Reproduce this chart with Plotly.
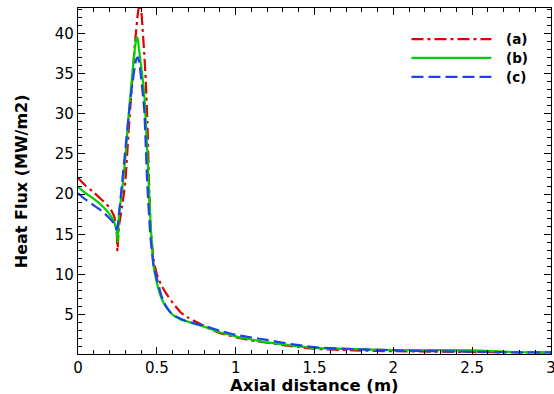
import plotly.graph_objects as go

# Case (a)
xa = [0, 0.05, 0.1, 0.15, 0.2, 0.23, 0.245, 0.25, 0.26, 0.28, 0.3, 0.32, 0.34, 0.36, 0.38, 0.39, 0.40,
      0.41, 0.42, 0.43, 0.44, 0.45, 0.46, 0.48, 0.5, 0.53, 0.56, 0.6, 0.65, 0.7, 0.8, 0.9, 1.0, 1.1,
      1.2, 1.3, 1.4, 1.5, 1.75, 2.0, 2.25, 2.5, 2.75, 3.0]
ya = [22.0, 21.0, 20.2, 19.3, 18.3, 17.2, 15.5, 12.9, 16.0, 18.5, 21.5, 27.5, 33.0, 38.5, 42.5, 43.6, 43.0,
      40.5, 37.5, 34.0, 29.0, 22.0, 16.0, 11.8, 10.0, 8.6, 7.6, 6.5, 5.3, 4.6, 3.6, 2.7, 2.2, 1.8,
      1.5, 1.2, 0.95, 0.75, 0.55, 0.45, 0.4, 0.35, 0.3, 0.28]

# Case (b)
xb = [0, 0.05, 0.1, 0.15, 0.2, 0.23, 0.245, 0.252, 0.26, 0.28, 0.3, 0.32, 0.34, 0.36, 0.37, 0.375, 0.38,
      0.39, 0.40, 0.42, 0.44, 0.46, 0.48, 0.5, 0.53, 0.56, 0.6, 0.65, 0.7, 0.8, 0.9, 1.0, 1.1, 1.2,
      1.3, 1.4, 1.5, 1.75, 2.0, 2.25, 2.5, 2.75, 3.0]
yb = [20.9, 20.1, 19.4, 18.6, 17.5, 16.5, 15.5, 14.0, 17.5, 20.5, 24.5, 29.5, 34.0, 38.0, 39.3, 39.5, 39.2,
      37.5, 36.0, 32.5, 25.0, 16.5, 11.0, 9.0, 7.0, 5.9, 5.0, 4.4, 4.1, 3.5, 2.8, 2.3, 1.9, 1.55,
      1.3, 1.05, 0.85, 0.7, 0.6, 0.6, 0.55, 0.35, 0.3]

# Case (c)
xc = [0, 0.05, 0.1, 0.15, 0.2, 0.23, 0.244, 0.25, 0.26, 0.28, 0.3, 0.32, 0.34, 0.36, 0.37, 0.38, 0.39,
      0.40, 0.42, 0.44, 0.46, 0.48, 0.5, 0.53, 0.56, 0.6, 0.65, 0.7, 0.8, 0.9, 1.0, 1.1, 1.2, 1.3,
      1.4, 1.5, 1.75, 2.0, 2.25, 2.5, 2.75, 3.0]
yc = [20.1, 19.3, 18.6, 17.9, 17.0, 16.3, 15.6, 15.8, 17.5, 21.5, 25.5, 29.5, 33.0, 35.8, 36.8, 37.0, 36.2,
      34.5, 30.5, 21.0, 14.5, 11.0, 9.5, 7.3, 6.0, 5.0, 4.5, 4.1, 3.6, 3.0, 2.5, 2.15, 1.85, 1.5,
      1.2, 0.95, 0.7, 0.55, 0.45, 0.38, 0.32, 0.3]

labels = ["(a)", "(b)", "(c)"]
colors = ["#e00000", "#00d000", "#2040f0"]
dashes = ["12px,4px,3px,4px", "solid", "12px,5px"]

x_ticks = [0, 0.5, 1, 1.5, 2, 2.5, 3]
x_ticktext = ["0", "0.5", "1", "1.5", "2", "2.5", "3"]
y_ticks = [5, 10, 15, 20, 25, 30, 35, 40]

FONT = "DejaVu Sans"

fig = go.Figure()
for xs, ys, c, d, name in zip([xa, xb, xc], [ya, yb, yc], colors, dashes, labels):
    fig.add_trace(go.Scatter(x=xs, y=ys, mode="lines", name=name,
                             line=dict(color=c, width=2.2, dash=d, shape="spline", smoothing=0.5),
                             showlegend=False))

# manual legend
leg_y = [0.910, 0.856, 0.801]
for c, d, name, ly in zip(colors, dashes, labels, leg_y):
    fig.add_shape(type="line", xref="paper", yref="paper", x0=0.705, x1=0.874, y0=ly, y1=ly,
                  line=dict(color=c, width=2.2, dash=d))
    fig.add_annotation(xref="paper", yref="paper", x=0.9, y=ly, text="<b>%s</b>" % name,
                       showarrow=False, xanchor="left", yanchor="middle",
                       font=dict(size=13.5, color="black", family=FONT))

# axis titles
fig.add_annotation(xref="paper", yref="paper", x=0.5, y=-0.092, text="<b>Axial distance (m)</b>",
                   showarrow=False, xanchor="center", yanchor="middle",
                   font=dict(size=16.5, color="black", family=FONT))
fig.add_annotation(xref="paper", yref="paper", x=-0.12, y=0.5, text="<b>Heat Flux (MW/m2)</b>",
                   showarrow=False, xanchor="center", yanchor="middle", textangle=-90,
                   font=dict(size=16, color="black", family=FONT))

axis_common = dict(showline=True, linecolor="black", linewidth=1.2, mirror="allticks",
                   ticks="inside", ticklen=7, tickcolor="black", showgrid=False, zeroline=False,
                   automargin=False, ticklabeloverflow="allow",
                   tickfont=dict(size=15, color="black", family=FONT))

fig.update_layout(
    width=554, height=394,
    margin=dict(l=78, r=3, t=8, b=40),
    plot_bgcolor="white", paper_bgcolor="white",
    xaxis=dict(range=[0, 3], tickvals=x_ticks, ticktext=x_ticktext,
               minor=dict(dtick=0.1, ticks="inside", ticklen=4, tickcolor="black"),
               **axis_common),
    yaxis=dict(range=[0.1, 43.15], tickvals=y_ticks,
               minor=dict(dtick=1, ticks="inside", ticklen=4, tickcolor="black"),
               **axis_common),
)

fig.write_html("out.html", config={"displayModeBar": False},
               post_script="document.body.style.margin='0px';document.body.style.overflow='hidden';")
